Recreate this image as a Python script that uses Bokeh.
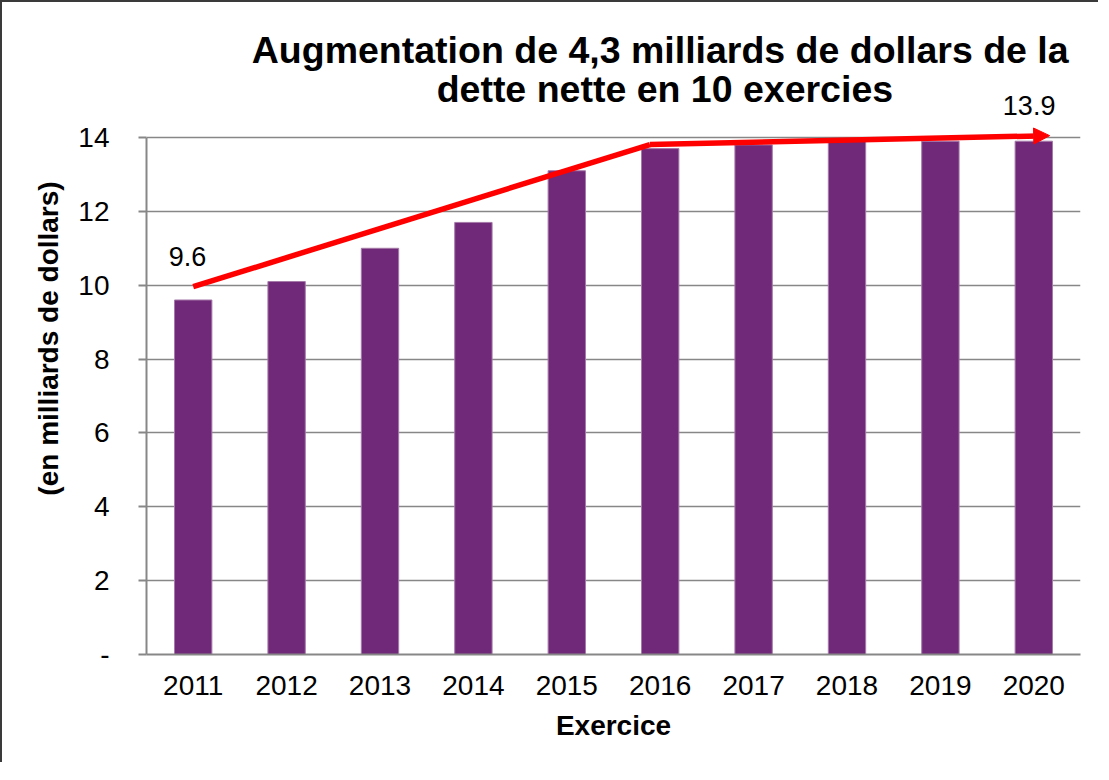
from bokeh.plotting import figure
from bokeh.models import Range1d, ColumnDataSource, LabelSet, Arrow, NormalHead, FixedTicker
from bokeh.core.properties import value
from bokeh.embed import file_html
from bokeh.resources import INLINE

# ---- data ----
years = ["2011", "2012", "2013", "2014", "2015", "2016", "2017", "2018", "2019", "2020"]
debt = [9.6, 10.1, 11.0, 11.7, 13.1, 13.7, 13.8, 13.9, 13.9, 13.9]
trend_x = [0.0, 4.89, 9.17]
trend_y = [9.96, 13.81, 14.05]
value_labels = ["9.6", "13.9"]
value_label_x = [-0.06, 8.95]
value_label_y = [10.53, 14.6]
y_ticks = [0, 2, 4, 6, 8, 10, 12, 14]
title_lines = ["Augmentation de 4,3 milliards de dollars de la", "dette nette en 10 exercies"]
title_x = [5.0, 5.05]
title_y = [16.03, 14.95]

FONT = "Liberation Sans"
GRAY = "#878787"
Y_MAX = 14
Y_TOP = Y_MAX * 632 / 517  # extra headroom inside the frame for title / labels

idx = list(range(len(years)))

p = figure(width=1098, height=762, output_backend="svg", toolbar_location=None,
           x_range=Range1d(-0.5, len(years) - 0.5), y_range=Range1d(0, Y_TOP),
           min_border_left=144, min_border_right=20, min_border_top=20, min_border_bottom=110)
p.outline_line_color = None
p.background_fill_color = "white"
p.border_fill_color = "white"
p.styles = {"border-left": "2px solid #3a3a3a", "border-top": "2px solid #3a3a3a"}

src = ColumnDataSource(dict(x=idx, top=debt))
p.vbar(x="x", top="top", bottom=0, width=0.4, source=src,
       fill_color="#702878", line_color="#a57aa9", line_width=1)

# trend arrow
p.line(trend_x[:2], trend_y[:2], line_color="#FF0000", line_width=5.5)
p.add_layout(Arrow(x_start=trend_x[1], y_start=trend_y[1], x_end=trend_x[2], y_end=trend_y[2],
                   line_color="#FF0000", line_width=5.5,
                   end=NormalHead(size=16, fill_color="#FF0000", line_color="#FF0000", line_width=1)))

lsrc = ColumnDataSource(dict(x=value_label_x, y=value_label_y, t=value_labels))
p.add_layout(LabelSet(x="x", y="y", text="t", source=lsrc, text_align="center",
                      text_baseline="alphabetic", text_font=value(FONT), text_font_size=value("27px"),
                      text_color="black"))

# title
tsrc = ColumnDataSource(dict(x=title_x, y=title_y, t=title_lines))
p.add_layout(LabelSet(x="x", y="y", text="t", source=tsrc, text_align="center",
                      text_baseline="alphabetic", text_font=value(FONT), text_font_size=value("37.5px"),
                      text_font_style="bold", text_color="black"))

# axes
p.xgrid.grid_line_color = None
p.ygrid.grid_line_color = GRAY
p.ygrid.grid_line_width = 1.5
p.ygrid.ticker = FixedTicker(ticks=y_ticks)

p.xaxis.ticker = FixedTicker(ticks=idx)
p.xaxis.major_label_overrides = {i: y for i, y in zip(idx, years)}
p.xaxis.major_tick_line_color = None
p.xaxis.minor_tick_line_color = None
p.xaxis.axis_line_color = GRAY
p.xaxis.axis_line_width = 2
p.xaxis.major_label_text_font = FONT
p.xaxis.major_label_text_font_size = "28px"
p.xaxis.major_label_text_color = "black"
p.xaxis.major_label_standoff = 15
p.xaxis.axis_label = "Exercice"
p.xaxis.axis_label_text_font = FONT
p.xaxis.axis_label_text_font_size = "28px"
p.xaxis.axis_label_text_font_style = "bold"
p.xaxis.axis_label_text_color = "black"
p.xaxis.axis_label_standoff = 12

p.yaxis.ticker = FixedTicker(ticks=y_ticks)
p.yaxis.bounds = (0, Y_MAX)
p.yaxis.major_label_overrides = {0: "-"}
p.yaxis.major_tick_in = 0
p.yaxis.major_tick_out = 8
p.yaxis.major_tick_line_color = GRAY
p.yaxis.major_tick_line_width = 2
p.yaxis.minor_tick_line_color = None
p.yaxis.axis_line_color = GRAY
p.yaxis.axis_line_width = 2
p.yaxis.major_label_text_font = FONT
p.yaxis.major_label_text_font_size = "28px"
p.yaxis.major_label_text_color = "black"
p.yaxis.major_label_standoff = 29
p.yaxis.axis_label = "(en milliards de dollars)"
p.yaxis.axis_label_text_font = FONT
p.yaxis.axis_label_text_font_size = "28px"
p.yaxis.axis_label_text_font_style = "bold"
p.yaxis.axis_label_text_color = "black"
p.yaxis.axis_label_standoff = 11

open("out.html", "w").write(file_html(p, INLINE))
